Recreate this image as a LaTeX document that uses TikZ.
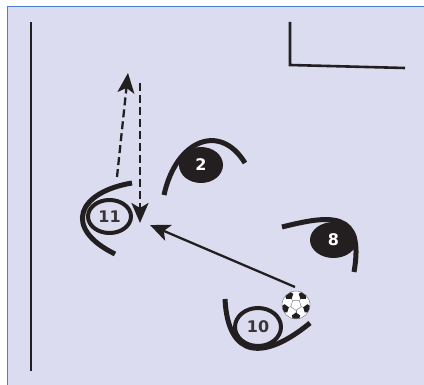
\documentclass[tikz,border=0pt]{standalone}
\usepackage{fontspec}
\setmainfont{DejaVu Sans}
\usetikzlibrary{arrows.meta,shapes.geometric,calc}
\definecolor{bg}{HTML}{DCDCF0}
\definecolor{ink}{HTML}{231F20}
\definecolor{frame}{HTML}{4A7FD4}
\tikzset{
  playeropen/.style={ellipse,draw=ink,line width=4pt,fill=bg,inner sep=0pt,text=ink!90,font=\fontsize{16}{16}\selectfont\bfseries},
  playerfill/.style={ellipse,fill=ink,inner sep=0pt,text=white,font=\fontsize{16}{16}\selectfont\bfseries},
  arc/.style={draw=ink,line width=5pt},
  pass/.style={draw=ink,line width=2.3pt,-{Stealth[length=20pt,width=17pt,inset=5pt]}},
  run/.style={pass,dash pattern=on 8pt off 4pt},
  wall/.style={draw=ink,line width=2.6pt}
}
\begin{document}
\begin{tikzpicture}[x=1pt,y=-1pt]
\useasboundingbox (0,0) rectangle (424,385);
\fill[white] (0,0) rectangle (424,385);
\fill[bg] (7,7) rectangle (424,385);
\draw[frame,line width=1pt] (7,385) -- (7,7) -- (424,7);
% walls
\draw[wall] (31,22) -- (31,371);
\draw[wall] (290,22) -- (290,65) -- (405,68);
% body arcs
\draw[arc] (132,183) .. controls (78,192) and (62,228) .. (115,254);
\draw[arc] (164,195) .. controls (176,140) and (220,122) .. (245,163);
\draw[arc] (282,227) .. controls (330,215) and (365,210) .. (354,272);
\draw[arc] (225,299) .. controls (228,360) and (265,360) .. (310,323);
% players
\node[playeropen,minimum width=43pt,minimum height=33pt] (p11) at (109.5,216.5) {11};
\node[playerfill,minimum width=44pt,minimum height=36pt] (p2) at (201,165) {2};
\node[playerfill,minimum width=47pt,minimum height=36pt] (p8) at (333.5,240) {8};
\node[playeropen,minimum width=46pt,minimum height=38pt] (p10) at (258,327) {10};
% ball
\node[circle,draw=gray,line width=0.5pt,fill=white,minimum size=28pt,inner sep=0pt] (ball) at (296,305) {};
\begin{scope}[shift={(ball.center)}]
\clip (0,0) circle (13.7pt);
\foreach \a in {-90,-18,54,126,198}{
  \draw[gray,line width=0.4pt] (\a:5.5pt) -- (\a:9pt);
  \fill[ink] (\a:12pt) +(\a+180:4.5pt) -- +(\a+180+72:4.5pt) -- +(\a+180+144:4.5pt) -- +(\a+180+216:4.5pt) -- +(\a+180+288:4.5pt) -- cycle;
}
\draw[gray,line width=0.5pt] (-90:5.5pt) -- (-18:5.5pt) -- (54:5.5pt) -- (126:5.5pt) -- (198:5.5pt) -- cycle;
\end{scope}
% arrows
\coordinate (passstart) at (295,287);
\coordinate (passend) at (150,225);
\draw[pass] (passstart) -- (passend);
\coordinate (runastart) at (117,177);
\coordinate (runaend) at (128,73);
\draw[run] (runastart) -- (runaend);
\coordinate (runbstart) at (140,83);
\coordinate (runbend) at (140,223);
\draw[run] (runbstart) -- (runbend);
\end{tikzpicture}
\end{document}
